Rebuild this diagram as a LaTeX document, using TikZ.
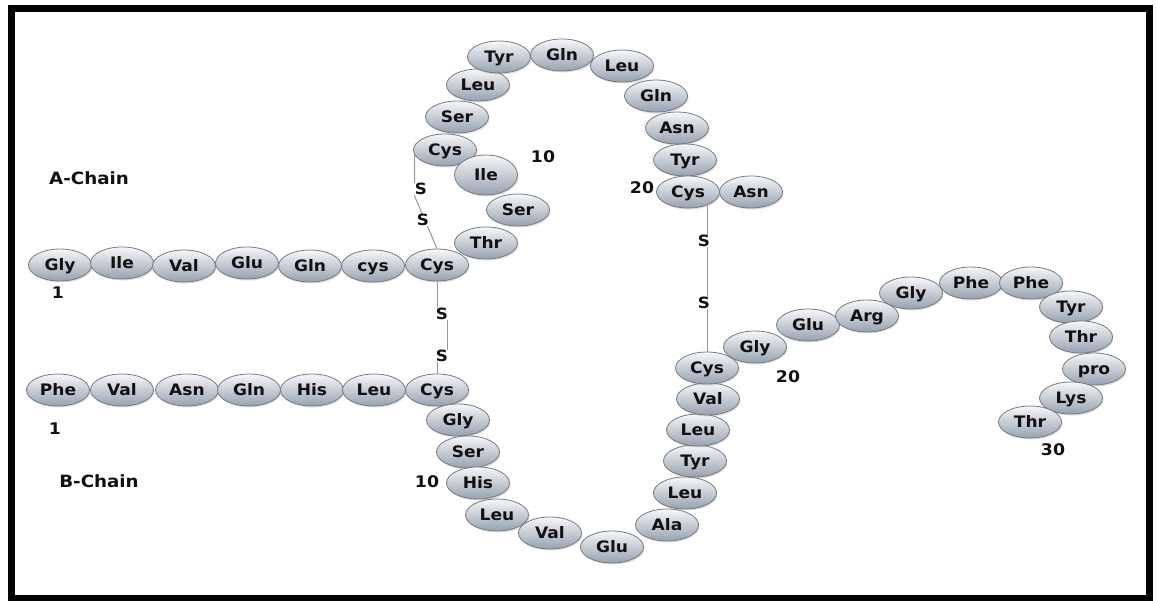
\documentclass[tikz,border=0pt]{standalone}
\usepackage{fontspec}
\newfontfamily\labfont{DejaVu Sans}[FakeStretch=1.08]
\usetikzlibrary{shapes.geometric,shadows}

\definecolor{beadtop}{RGB}{246,247,249}
\definecolor{beadmid}{RGB}{214,219,225}
\definecolor{beadbot}{RGB}{150,162,176}
\definecolor{beadrim}{RGB}{118,122,128}
\definecolor{bondgray}{RGB}{150,150,150}
\definecolor{ink}{RGB}{17,17,17}

\tikzset{
  bead/.style={ellipse, draw=beadrim, line width=0.8pt,
    top color=beadtop, middle color=beadmid, bottom color=beadbot,
    minimum width=63pt, minimum height=32pt, inner sep=0pt,
    text=ink, font=\labfont\bfseries\fontsize{15.8}{16}\selectfont,
    text height=11.5pt, text depth=0pt,
    drop shadow={shadow xshift=1pt, shadow yshift=-1.5pt, opacity=0.25}},
  bigbead/.style={bead, minimum height=40pt},
  sulfur/.style={font=\labfont\bfseries\fontsize{15.5}{16}\selectfont,
    text=ink, fill=white, inner sep=0.6pt, text height=11.3pt, text depth=0pt},
  caption/.style={font=\labfont\bfseries\fontsize{16.9}{18}\selectfont, text=ink},
  resno/.style={font=\labfont\bfseries\fontsize{16}{17}\selectfont, text=ink,
    inner sep=0pt, text height=11.6pt, text depth=0pt},
  bond/.style={draw=bondgray, line width=1pt}
}

\begin{document}
\begin{tikzpicture}[x=1pt, y=-1pt]
\useasboundingbox (0,0) rectangle (1156,601);

% outer frame
\draw[line width=7pt] (11.5,9) rectangle (1149,598.5);

% ---- A chain ----
\node[bead] (a1) at (60,265) {Gly};
\node[bead] (a2) at (122,263) {Ile};
\node[bead] (a3) at (184,266) {Val};
\node[bead] (a4) at (247,263) {Glu};
\node[bead] (a5) at (310,266) {Gln};
\node[bead] (a6) at (373,266) {cys};
\node[bead] (a7) at (437,265) {Cys};
\node[bead] (a8) at (486,243) {Thr};
\node[bead] (a9) at (518,210) {Ser};
\node[bead] (a11) at (445,150) {Cys};
\node[bigbead] (a10) at (486,175) {Ile};
\node[bead] (a12) at (457,117) {Ser};
\node[bead] (a13) at (478,85) {Leu};
\node[bead] (a14) at (499,57) {Tyr};
\node[bead] (a15) at (562,55) {Gln};
\node[bead] (a16) at (622,66) {Leu};
\node[bead] (a17) at (656,96) {Gln};
\node[bead] (a18) at (677,128) {Asn};
\node[bead] (a19) at (685,160) {Tyr};
\node[bead] (a20) at (688,192) {Cys};
\node[bead] (a21) at (751,192) {Asn};

% ---- B chain ----
\node[bead] (b1) at (58,390) {Phe};
\node[bead] (b2) at (122,390) {Val};
\node[bead] (b3) at (187,390) {Asn};
\node[bead] (b4) at (249,390) {Gln};
\node[bead] (b5) at (312,390) {His};
\node[bead] (b6) at (374,390) {Leu};
\node[bead] (b7) at (437,390) {Cys};
\node[bead] (b8) at (458,420) {Gly};
\node[bead] (b9) at (468,452) {Ser};
\node[bead] (b10) at (478,483) {His};
\node[bead] (b11) at (497,515) {Leu};
\node[bead] (b12) at (550,533) {Val};
\node[bead] (b13) at (612,547) {Glu};
\node[bead] (b14) at (667,525) {Ala};
\node[bead] (b15) at (685,493) {Leu};
\node[bead] (b16) at (695,461) {Tyr};
\node[bead] (b17) at (698,430) {Leu};
\node[bead] (b18) at (708,399) {Val};
\node[bead] (b19) at (707,368) {Cys};
\node[bead] (b20) at (755,347) {Gly};
\node[bead] (b21) at (808,325) {Glu};
\node[bead] (b22) at (867,316) {Arg};
\node[bead] (b23) at (911,293) {Gly};
\node[bead] (b24) at (971,283) {Phe};
\node[bead] (b25) at (1031,283) {Phe};
\node[bead] (b26) at (1071,307) {Tyr};
\node[bead] (b27) at (1081,337) {Thr};
\node[bead] (b28) at (1094,369) {pro};
\node[bead] (b29) at (1071,398) {Lys};
\node[bead] (b30) at (1030,422) {Thr};

% ---- disulfide bridges ----
% A6 -- A11 (intra-chain)
\coordinate (k1) at ([shift={(1.5pt,-3pt)}]a11.west);
\coordinate (k2) at (k1 |- 0,196);
\draw[bond] (k1) -- (k2) -- (a7.north);
\node[sulfur] (sA1) at (421,189) {S};
\node[sulfur] (sA2) at (423,220) {S};

% A7 -- B7
\node[sulfur] (sAB1) at (442,314) {S};
\node[sulfur] (sAB2) at (442,356) {S};
\draw[bond] (a7.south) -- (a7.south |- sAB1.north);
\draw[bond] ([xshift=5pt]sAB1.south) -- ([xshift=5pt]sAB2.north);
\draw[bond] (b7.north |- sAB2.south) -- (b7.north);

% A20 -- B19
\node[sulfur] (sC1) at (704,241) {S};
\node[sulfur] (sC2) at (704,303) {S};
\draw[bond] (b19.north |- a20.-32) -- (b19.north |- sC1.north);
\draw[bond] (b19.north |- sC1.south) -- (b19.north |- sC2.north);
\draw[bond] (b19.north |- sC2.south) -- (b19.north);

% ---- chain names and residue numbers ----
\node[caption] (capA) at (89,178) {A-Chain};
\node[caption] (capB) at (99,481) {B-Chain};
\node[resno] (nA1) at (58,293) {1};
\node[resno] (nA10) at (543,157) {10};
\node[resno] (nA20) at (642,188) {20};
\node[resno] (nB1) at (55,429) {1};
\node[resno] (nB10) at (427,482) {10};
\node[resno] (nB20) at (788,377) {20};
\node[resno] (nB30) at (1053,450) {30};
\end{tikzpicture}
\end{document}
